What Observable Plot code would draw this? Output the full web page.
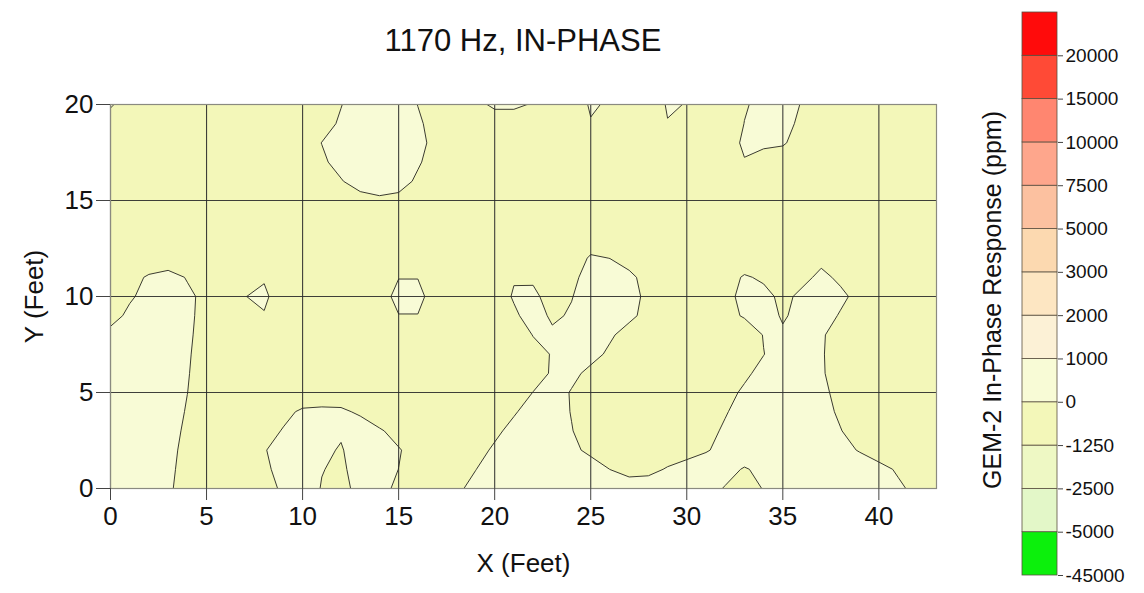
<!DOCTYPE html>
<html>
<head>
<meta charset="utf-8">
<script src="https://cdn.jsdelivr.net/npm/d3@7"></script>
<script src="https://cdn.jsdelivr.net/npm/@observablehq/plot@0.6"></script>
<style>
  html, body { margin: 0; padding: 0; background: #fff; }
  #wrap { position: relative; width: 1144px; height: 593px; font-family: "Liberation Sans", Arial, sans-serif; }
  #main { position: absolute; left: 0; top: 0; }
  #bar { position: absolute; left: 960px; top: 0; }
  #title { position: absolute; left: 110px; width: 826px; top: 23px; text-align: center;
           font-size: 31px; line-height: 36px; color: #111; }
</style>
</head>
<body>
<div id="wrap">
  <div id="main"></div>
  <div id="bar"></div>
  <div id="title">1170 Hz, IN-PHASE</div>
</div>
<script>
// ---- data -------------------------------------------------------------
const chartTitle = "1170 Hz, IN-PHASE";
const xLabel = "X (Feet)";
const yLabel = "Y (Feet)";
const barTitle = "GEM-2 In-Phase Response (ppm)";

const xTicks = [0, 5, 10, 15, 20, 25, 30, 35, 40];
const yTicks = [0, 5, 10, 15, 20];
const xExtent = [0, 43];
const yExtent = [0, 20];

// contour levels (lower edge of each colour band) and their labels / colours
const levels = [-45000, -5000, -2500, -1250, 0, 1000, 2000, 3000, 5000, 7500, 10000, 15000, 20000];
const levelLabels = ["-45000", "-5000", "-2500", "-1250", "0", "1000", "2000", "3000", "5000", "7500", "10000", "15000", "20000"];
const levelColors = ["#0cf00c", "#e3f7c8", "#eef8c4", "#f3f7b9", "#f8fbd6", "#fcf1d6", "#fde6c2",
                     "#fcd9b0", "#fcc1a0", "#fea68c", "#ff8670", "#ff4a36", "#ff0b0b"];

// in-phase response (ppm) on a 1-ft grid: x = 0..43 (columns), y = 0..20 (rows, bottom row first)
const row00 = [900,900,760,160,-440,-900,-900,-900,-420,180, 600,-60,-300,300,360,-240,-840,-840,-240,360, 900,900,900,900,900,900,900,900,900,900, 900,510,-90,-540,60,660,900,900,900,900, 840,240,-360,-900];
const row01 = [900,900,830,230,-370,-900,-900,-820,-220,380, 730,40,-200,460,590,-10,-610,-900,-630,-30, 570,900,900,900,900,600,-10,-600,-460,140, 740,900,480,-120,340,900,900,900,900,900, 430,-170,-770,-900];
const row02 = [900,900,900,300,-300,-900,-900,-680,-80,520, 850,250,-100,620,690,90,-510,-900,-900,-420, 180,780,900,900,300,-300,-900,-900,-900,-900, -730,-130,470,900,900,900,900,900,490,-110, -710,-900,-900,-900];
const row03 = [900,900,900,400,-200,-800,-900,-900,-510,90, 690,900,150,750,150,-450,-900,-900,-900,-850, -250,350,900,650,50,-550,-900,-900,-900,-900, -900,-410,190,790,900,900,900,650,50,-550, -900,-900,-900,-900];
const row04 = [900,900,900,510,-90,-690,-900,-900,-900,-340, 200,300,250,-220,-820,-900,-900,-900,-900,-900, -720,-120,480,550,-50,-650,-900,-900,-900,-900, -900,-700,-100,500,900,900,900,410,-190,-790, -900,-900,-900,-900];
const row05 = [900,900,900,610,10,-590,-900,-900,-900,-900, -900,-900,-900,-900,-900,-900,-900,-900,-900,-900, -900,-580,20,520,-80,-680,-900,-900,-900,-900, -900,-900,-400,200,800,900,860,260,-340,-900, -900,-900,-900,-900];
const row06 = [900,900,900,670,70,-530,-900,-900,-900,-900, -900,-900,-900,-900,-900,-900,-900,-900,-900,-900, -900,-900,-480,120,300,-300,-900,-900,-900,-900, -900,-900,-830,-230,370,900,720,120,-480,-900, -900,-900,-900,-900];
const row07 = [900,900,900,720,120,-480,-900,-900,-900,-900, -900,-900,-900,-900,-900,-900,-900,-900,-900,-900, -900,-900,-510,90,690,390,-210,-810,-900,-900, -900,-900,-900,-630,-30,570,700,100,-500,-900, -900,-900,-900,-900];
const row08 = [400,900,900,780,180,-420,-900,-900,-900,-900, -900,-900,-900,-900,-900,-900,-900,-900,-900,-900, -900,-900,50,210,810,760,160,-440,-900,-900, -900,-900,-900,-900,60,200,730,130,-470,-900, -900,-900,-900,-900];
const row09 = [-500,290,890,830,230,-370,-900,-900,-110,-900, -900,-900,-900,-900,-680,-50,-50,-730,-900,-900, -830,-230,550,-200,130,730,850,250,-350,-900, -900,-900,-460,140,610,-150,410,500,-100,-700, -900,-900,-900,-900];
const row10 = [-770,-170,430,860,260,-340,-660,-30,300,-900, -900,-900,-900,-900,-750,500,500,-900,-900,-900, -730,130,210,-390,-50,550,900,360,-240,-840, -900,-900,-310,290,400,-320,280,850,250,-350, -900,-900,-900,-900];
const row11 = [-900,-440,160,510,-90,-690,-900,-900,-150,-900, -900,-900,-900,-900,-900,-50,-50,-900,-900,-900, -900,-100,-150,-830,-230,370,830,230,-370,-900, -900,-900,-620,150,-210,-900,-330,270,-220,-820, -900,-900,-900,-900];
const row12 = [-900,-900,-900,-900,-900,-900,-900,-900,-900,-900, -900,-900,-900,-900,-900,-900,-900,-900,-900,-900, -900,-900,-900,-900,-900,200,-20,-400,-900,-900, -900,-900,-900,-900,-900,-900,-900,-300,-900,-900, -900,-900,-900,-900];
const row13 = [-900,-900,-900,-900,-900,-900,-900,-900,-900,-900, -900,-900,-900,-900,-900,-900,-900,-900,-900,-900, -900,-900,-900,-900,-900,-900,-900,-900,-900,-900, -900,-900,-900,-900,-900,-900,-900,-900,-900,-900, -900,-900,-900,-900];
const row14 = [-900,-900,-900,-900,-900,-900,-900,-900,-900,-900, -900,-900,-900,-900,-900,-900,-900,-900,-900,-900, -900,-900,-900,-900,-900,-900,-900,-900,-900,-900, -900,-900,-900,-900,-900,-900,-900,-900,-900,-900, -900,-900,-900,-900];
const row15 = [-900,-900,-900,-900,-900,-900,-900,-900,-900,-900, -900,-900,-900,-450,-300,-300,-900,-900,-900,-900, -900,-900,-900,-900,-900,-900,-900,-900,-900,-900, -900,-900,-900,-900,-900,-900,-900,-900,-900,-900, -900,-900,-900,-900];
const row16 = [-900,-900,-900,-900,-900,-900,-900,-900,-900,-900, -900,-680,-80,520,900,420,-180,-780,-900,-900, -900,-900,-900,-900,-900,-900,-900,-900,-900,-900, -900,-900,-900,-900,-900,-900,-900,-900,-900,-900, -900,-900,-900,-900];
const row17 = [-900,-900,-900,-900,-900,-900,-900,-900,-900,-900, -800,-200,400,900,900,720,120,-480,-900,-900, -900,-900,-900,-900,-900,-900,-900,-900,-900,-900, -900,-900,-900,-100,-900,-800,-900,-900,-900,-900, -900,-900,-900,-900];
const row18 = [-900,-900,-900,-900,-900,-900,-900,-900,-900,-900, -580,20,620,900,900,880,280,-320,-900,-900, -900,-900,-900,-900,-900,-900,-900,-900,-900,-900, -900,-900,-900,300,400,150,-600,-900,-900,-900, -900,-900,-900,-900];
const row19 = [-900,-900,-900,-900,-900,-900,-900,-900,-900,-900, -900,-440,160,760,900,770,170,-430,-900,-900, -600,-600,-900,-900,-900,-80,-900,-900,-900,-40, -400,-900,-800,20,400,300,-200,-900,-900,-900, -900,-900,-900,-900];
const row20 = [200,-900,-900,-900,-900,-900,-900,-900,-900,-900, -900,-640,-40,560,900,580,-20,-620,-900,-300, 200,200,-90,-900,-800,150,-150,-900,-700,100, -30,-900,-900,-100,300,300,-40,-900,-900,-900, -900,-900,-900,-900];

const responseRows = [row00,row01,row02,row03,row04,row05,row06,row07,row08,row09,row10,
                      row11,row12,row13,row14,row15,row16,row17,row18,row19,row20];

// ---- build -------------------------------------------------------------
const gridW = row00.length, gridH = responseRows.length;
const gridValues = responseRows.flat();
const gridBounds = {
  width: gridW, height: gridH,
  x1: xExtent[0] - 0.5, x2: xExtent[0] - 0.5 + gridW,
  y1: yExtent[0] - 0.5, y2: yExtent[0] - 0.5 + gridH
};
const colorScale = {type: "threshold", domain: levels.slice(1), range: levelColors};
const font = "Liberation Sans, Arial, sans-serif";

const main = Plot.plot({
  width: 960, height: 593,
  marginLeft: 110, marginRight: 24, marginTop: 104, marginBottom: 105,
  x: {domain: xExtent},
  y: {domain: yExtent},
  color: colorScale,
  style: {fontFamily: font, color: "#111", background: "transparent"},
  marks: [
    Plot.contour(gridValues, {...gridBounds, fill: Plot.identity, thresholds: levels, clip: true}),
    Plot.contour(gridValues, {...gridBounds, value: Plot.identity, thresholds: levels, fill: "none",
                              stroke: "#3b3b30", strokeWidth: 1, clip: true}),
    Plot.gridX(xTicks, {stroke: "#2a2a2a", strokeOpacity: 0.9, strokeWidth: 1.1}),
    Plot.gridY(yTicks, {stroke: "#2a2a2a", strokeOpacity: 0.9, strokeWidth: 1.1}),
    Plot.frame({stroke: "#8a8a80", strokeWidth: 1.2}),
    Plot.axisX(xTicks, {tickSize: 12, tickPadding: 6, fontSize: 26, label: null, stroke: "#444"}),
    Plot.axisY(yTicks, {tickSize: 14, tickPadding: 3, fontSize: 26, label: null, stroke: "#444"}),
    Plot.text([xLabel], {text: d => d, frameAnchor: "bottom", dy: 83, fontSize: 26, fill: "#111"}),
    Plot.text([yLabel], {text: d => d, frameAnchor: "left", textAnchor: "middle", dx: -76, rotate: -90,
                         fontSize: 26, fill: "#111"})
  ]
});
document.getElementById("main").append(main);

const bandIndex = d3.range(levels.length);
const bar = Plot.plot({
  width: 184, height: 593,
  marginLeft: 62, marginRight: 87, marginTop: 12, marginBottom: 18,
  x: {domain: [0, 1], axis: null},
  y: {domain: [0, levels.length], axis: null},
  color: colorScale,
  style: {fontFamily: font, color: "#111", background: "transparent"},
  marks: [
    Plot.rect(levels, {x1: () => 0, x2: () => 1, y1: (d, i) => i, y2: (d, i) => i + 1,
                       fill: d => d, stroke: "#5a5040", strokeWidth: 0.8}),
    Plot.axisY(bandIndex, {anchor: "right", tickSize: 5, tickPadding: 3, fontSize: 19,
                           tickFormat: i => levelLabels[i], label: null, stroke: "#444"}),
    Plot.text([barTitle], {text: d => d, frameAnchor: "left", textAnchor: "middle", dx: -30, dy: 6,
                           rotate: -90, fontSize: 25, fill: "#111"})
  ]
});
document.getElementById("bar").append(bar);
document.getElementById("title").textContent = chartTitle;
</script>
</body>
</html>
